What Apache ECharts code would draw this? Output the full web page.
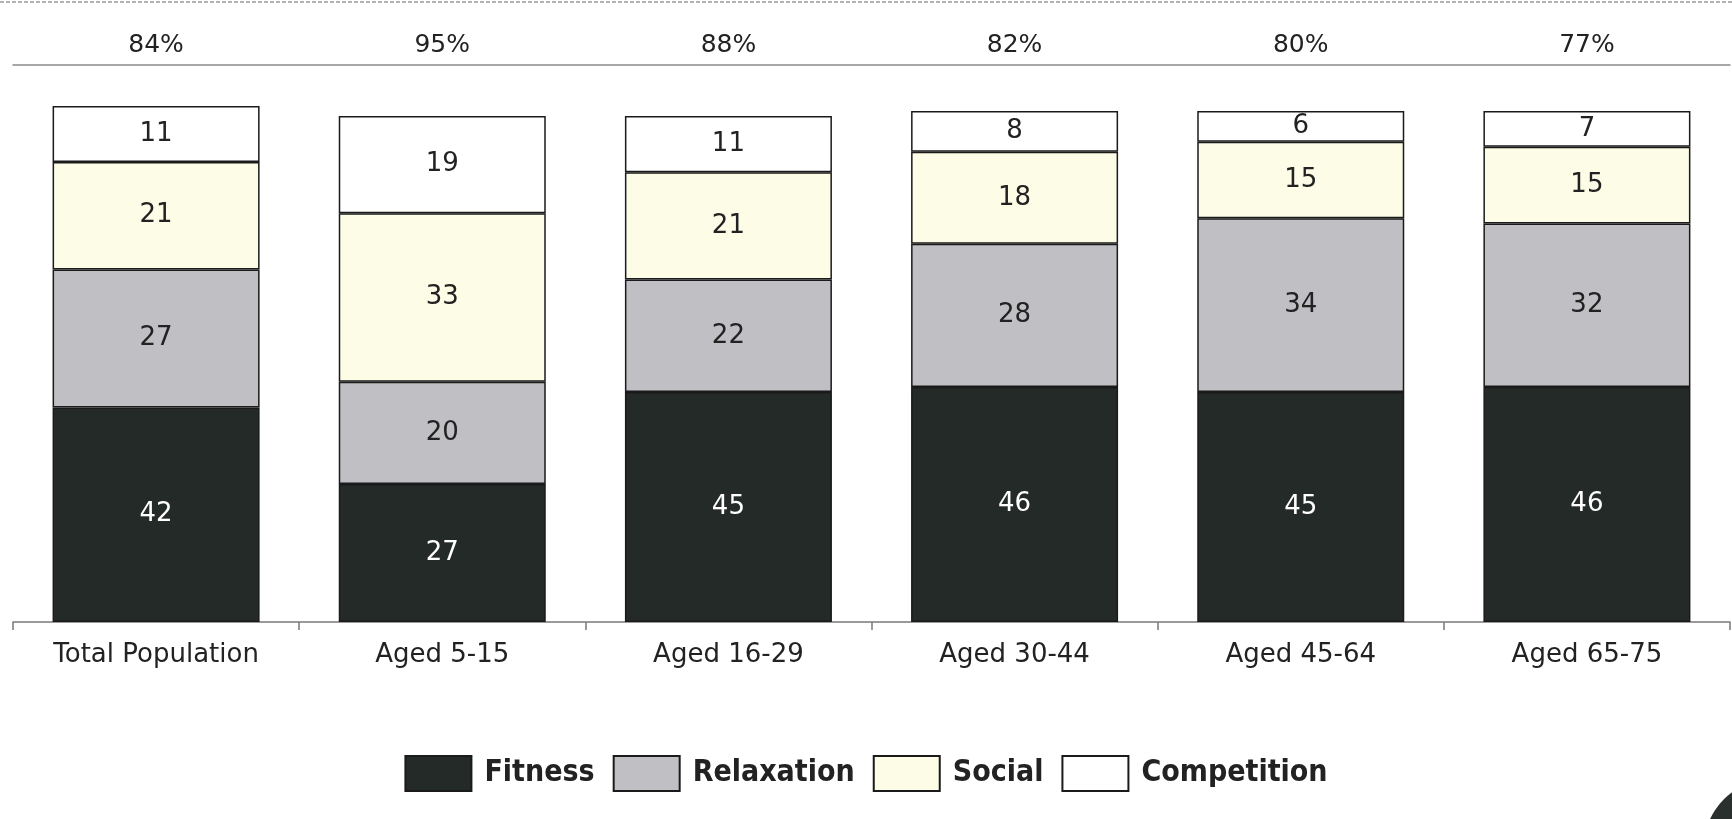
<!DOCTYPE html>
<html>
<head>
<meta charset="utf-8">
<style>
  html, body { margin: 0; padding: 0; background: #ffffff; }
  #chart { width: 1732px; height: 819px; }
</style>
<script src="https://cdn.jsdelivr.net/npm/echarts@6/dist/echarts.min.js"></script>
</head>
<body>
<div id="chart"></div>
<script>
// Motivations for taking part in sport, by age group
const categories = ['Total Population', 'Aged 5-15', 'Aged 16-29', 'Aged 30-44', 'Aged 45-64', 'Aged 65-75'];
const participation = ['84%', '95%', '88%', '82%', '80%', '77%'];

const fitness     = [42, 27, 45, 46, 45, 46];
const relaxation  = [27, 20, 22, 28, 34, 32];
const social      = [21, 33, 21, 18, 15, 15];
const competition = [11, 19, 11, 8, 6, 7];

const FONT = 'DejaVu Sans';
const LEGEND_FONT = '"DejaVu Sans Condensed", "DejaVu Sans", sans-serif';
const INK = '#222222';

const chart = echarts.init(document.getElementById('chart'), null, { renderer: 'canvas' });

function stackSeries(name, values, fill, labelColor) {
  return {
    name: name,
    type: 'bar',
    stack: 'motivation',
    data: values,
    barWidth: 207,
    clip: false,
    itemStyle: { color: fill, borderColor: '#1a1a1a', borderWidth: 1.5 },
    label: {
      show: true,
      position: 'inside',
      color: labelColor,
      fontFamily: FONT,
      fontSize: 26
    },
    emphasis: { disabled: true }
  };
}

chart.setOption({
  backgroundColor: '#ffffff',
  animation: false,
  grid: { left: 13, right: 2, top: 65, bottom: 197 },
  xAxis: [
    {
      type: 'category',
      position: 'bottom',
      data: categories,
      boundaryGap: true,
      axisLine: { show: true, lineStyle: { color: '#7a7a7a', width: 1.5 } },
      axisTick: { show: true, alignWithLabel: false, length: 8, lineStyle: { color: '#7a7a7a', width: 1.5 } },
      axisLabel: { color: INK, fontFamily: FONT, fontSize: 26, margin: 20, interval: 0 }
    },
    {
      type: 'category',
      position: 'top',
      data: participation,
      boundaryGap: true,
      axisLine: { show: true, lineStyle: { color: '#8a8a8a', width: 1.5 } },
      axisTick: { show: false },
      axisLabel: { color: INK, fontFamily: FONT, fontSize: 25, margin: 7, interval: 0 }
    }
  ],
  yAxis: { type: 'value', min: 0, max: 109, show: false, splitLine: { show: false } },
  legend: {
    bottom: 22,
    left: 'center',
    itemWidth: 66,
    itemHeight: 35,
    itemGap: 18,
    icon: 'rect',
    textStyle: { color: INK, fontFamily: LEGEND_FONT, fontSize: 30, fontWeight: 'bold', padding: [0, 0, 0, 8] },
    data: ['Fitness', 'Relaxation', 'Social', 'Competition']
  },
  graphic: [
    {
      type: 'line',
      shape: { x1: 0, y1: 2, x2: 1732, y2: 2 },
      style: { stroke: '#9a9a9a', lineWidth: 1.5, lineDash: [4, 2] },
      silent: true
    },
    {
      type: 'circle',
      shape: { cx: 1775, cy: 850, r: 72 },
      style: { fill: '#2a302d' },
      silent: true
    }
  ],
  series: [
    stackSeries('Fitness', fitness, '#242a27', '#ffffff'),
    stackSeries('Relaxation', relaxation, '#c0bfc3', INK),
    stackSeries('Social', social, '#fdfde7', INK),
    stackSeries('Competition', competition, '#ffffff', INK)
  ]
});
</script>
</body>
</html>
